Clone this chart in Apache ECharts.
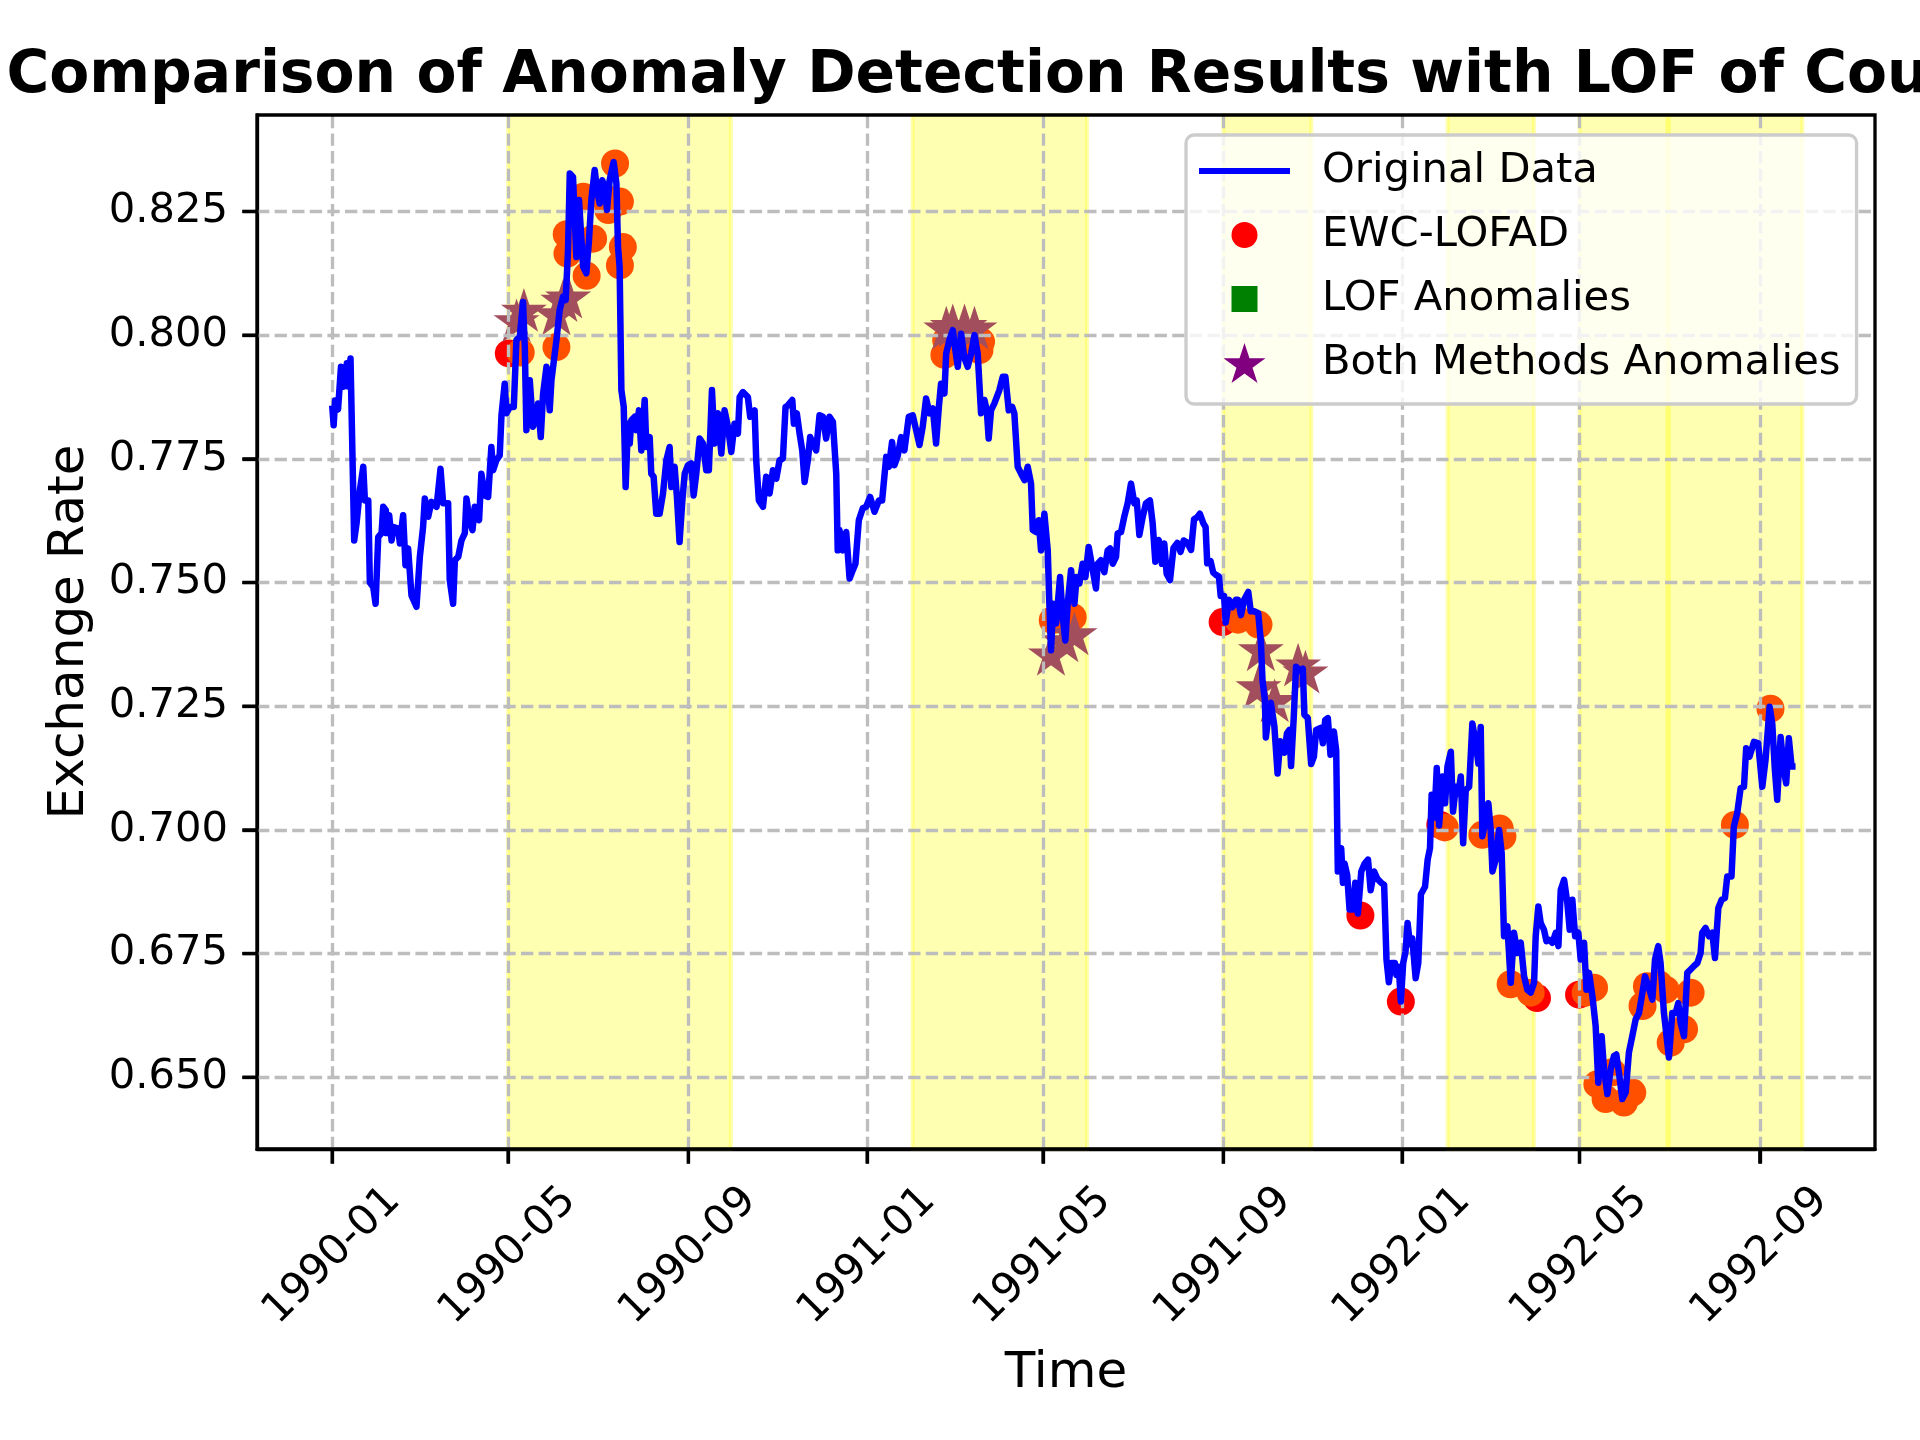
<!DOCTYPE html>
<html>
<head>
<meta charset="utf-8">
<title>Anomaly detection comparison</title>
<script src="https://cdn.jsdelivr.net/npm/echarts@6/dist/echarts.min.js"></script>
<style>
  html, body { margin: 0; padding: 0; background: #fff; }
  #chart { width: 1920px; height: 1440px; }
</style>
</head>
<body>
<div id="chart"></div>
<script>
// == Data ====================================================================
// x values are day offsets from 1990-01-01

const rates1990 = [
  [0,0.7858],[1,0.7818],[2,0.7868],[4,0.7850],[6,0.7936],[8,0.7896],[10,0.7943],[11,0.7896],
  [12.5,0.7953],[15,0.7585],[16.6,0.7619],[18.9,0.7687],[21.2,0.7734],[22.3,0.7666],[24.6,0.7666],
  [25.7,0.7500],[28,0.7491],[29.6,0.7457],[31.4,0.7592],[33.7,0.7600],[34.8,0.7653],[36.6,0.7646],
  [37,0.7600],[38.9,0.7636],[40.5,0.7585],[42,0.7612],[45,0.7609],[46.2,0.7579],[48.4,0.7636],
  [50,0.7535],[51.8,0.7569],[54.1,0.7474],[57.5,0.7451],[59.8,0.7552],[62,0.7612],[63.2,0.7670],
  [65.5,0.7633],[67.7,0.7663],[71.2,0.7653],[73.9,0.7730],[75.7,0.7660],[79.1,0.7660],[80.2,0.7505],
  [82.5,0.7457],[83.7,0.7545],[86,0.7552],[88.2,0.7585],[90.5,0.7600],[91.6,0.7670],[93.9,0.7623],
  [95.7,0.7606],[97.3,0.7653],[100.2,0.7626],[101.8,0.7720],[104.1,0.7676],[106.4,0.7673],
  [108.6,0.7774],[109.8,0.7727],[112,0.7747],[114.3,0.7757],[115.5,0.7838],[117.7,0.7902],
  [118.9,0.7842],[121.2,0.7855],[123.9,0.7855],[125.7,0.7990],[128,0.7997],[130.2,0.8067],
  [131.4,0.7976],[132.5,0.7808],[134.8,0.7909],[137,0.7815],[139.3,0.7835],[140.5,0.7862],
  [142.3,0.7794],[143.9,0.7882],[146.2,0.7936],[148.4,0.7848],[149.6,0.7909],[153,0.7990],
  [155.2,0.8051],[157.5,0.8078],[159.3,0.8071],[160.9,0.8172],[162.1,0.8327],[164.3,0.8320],
  [166.6,0.8158],[168.4,0.8273],[171.2,0.8138],[173.4,0.8125],[175.2,0.8192],[176.8,0.8273],
  [179.1,0.8334],[180.7,0.8293],[182.5,0.8266],[184.3,0.8313],[185.9,0.8300],[187.5,0.8253],
  [189.3,0.8313],[192,0.8350],[193.9,0.8307],[195,0.8179],[196.1,0.8138],[197.3,0.7889],
  [198.9,0.7855],[200.2,0.7693],[201.8,0.7821],[203,0.7781],[204.1,0.7828],[206.4,0.7835],
  [207.5,0.7808],[209.3,0.7848],[210.9,0.7767],[213.2,0.7869],[214.3,0.7774],[216.6,0.7794],
  [217.7,0.7720],[219.3,0.7714],[221.1,0.7639],[223.4,0.7639],[225.7,0.7680],[228,0.7747],
  [230.2,0.7774],[231.4,0.7693],[233.6,0.7734],[235.2,0.7673],[237,0.7582],[238.9,0.7666],
  [240.5,0.7720],[242.7,0.7737],[245,0.7741],[246.6,0.7676],[248.4,0.7720],[250.7,0.7791],
  [253,0.7781],[255.2,0.7727],[257,0.7727],[259.1,0.7889],[260.9,0.7781],[263.2,0.7842],
  [265.5,0.7761],[267.7,0.7848],[270,0.7815],[272.3,0.7764],[274.5,0.7821],[276.8,0.7801],
  [278,0.7875],[280.2,0.7885],[283.6,0.7875],[285.2,0.7835],[288.2,0.7848],[289.3,0.7747],
  [291.1,0.7666],[293.9,0.7653],[296.1,0.7714],[298.4,0.7680],[300.7,0.7727],[303,0.7710],
  [305.2,0.7747],[307.5,0.7751],[309.3,0.7855],[310.9,0.7858],[313.9,0.7869],[315,0.7821],
  [317,0.7842],[318.9,0.7801],[320.7,0.7767],[322.3,0.7703],[324.5,0.7747],[326.1,0.7794],
  [328,0.7781],[330.2,0.7767],[332.5,0.7838],[334.8,0.7835],[337,0.7791],[339.3,0.7835],
  [341.6,0.7825],[343.9,0.7720],[344.9,0.7565],[346.1,0.7606],[348.4,0.7565],[350.7,0.7602],
  [353,0.7508],[355.2,0.7525],[357,0.7538],[359.3,0.7626],[362,0.7650],[364.3,0.7653]
]

const rates1991 = [
  [367,0.7673],[370,0.7643],[373,0.7666],[375.2,0.7666],[378,0.7754],[379.8,0.7734],[382,0.7784],
  [383.6,0.7737],[385.9,0.7757],[388.2,0.7794],[390.4,0.7767],[393.4,0.7835],[396.1,0.7838],
  [398.4,0.7808],[400.7,0.7778],[402.9,0.7815],[405.2,0.7872],[407.5,0.7842],[409.8,0.7852],
  [412,0.7781],[413.9,0.7855],[415.4,0.7902],[417.7,0.7882],[418.9,0.7963],[421.1,0.7990],
  [423.4,0.8010],[425.2,0.7970],[426.8,0.7936],[429.1,0.8003],[431.4,0.7953],[433.6,0.7936],
  [435.9,0.7963],[438.2,0.8000],[440.4,0.7963],[442.7,0.7842],[445,0.7869],[446.6,0.7848],
  [447.9,0.7791],[449.5,0.7848],[451.8,0.7862],[455.2,0.7889],[457.5,0.7916],[459.3,0.7916],
  [461.6,0.7848],[463.9,0.7855],[465.4,0.7842],[467.7,0.7734],[470,0.7720],[472.3,0.7707],
  [474.5,0.7734],[476.8,0.7700],[478,0.7606],[480.2,0.7602],[482,0.7626],[483.6,0.7565],
  [485.9,0.7639],[488.2,0.7565],[489.3,0.7457],[490.4,0.7363],[492,0.7457],[493.9,0.7417],
  [496.6,0.7511],[498.4,0.7430],[500.2,0.7383],[501.8,0.7457],[504.1,0.7525],[506.4,0.7457],
  [507.9,0.7511],[509.8,0.7498],[512,0.7538],[513.9,0.7511],[516.1,0.7572],[518.9,0.7525],
  [521.1,0.7488],[522.3,0.7538],[524.5,0.7545],[526.8,0.7521],[529.1,0.7565],[530.7,0.7569],
  [532.5,0.7538],[534.8,0.7552],[535.9,0.7599],[538.2,0.7602],[540.4,0.7633],[542.7,0.7660],
  [545,0.7700],[547.3,0.7660],[548.9,0.7666],[550.7,0.7596],[553,0.7633],[555.2,0.7660],
  [557.9,0.7666],[559.8,0.7619],[561.6,0.7542],[563.9,0.7586],[566.1,0.7538],[567.7,0.7579],
  [569.3,0.7518],[571.6,0.7505],[574,0.7570],[576.6,0.7580],[578.8,0.7562],[581,0.7585],
  [583.3,0.7581],[586,0.7566],[588,0.7628],[590.2,0.7632],[592,0.7639],[594.3,0.7620],
  [595.9,0.7612],[597,0.7539],[599.3,0.7543],[601.1,0.7520],[602.7,0.7516],[605,0.7512],
  [606.2,0.7473],[608.5,0.7473],[609.6,0.7419],[611.9,0.7465],[614.2,0.7450],[616.5,0.7465],
  [618,0.7465],[620,0.7434],[622.2,0.7465],[625,0.7481],[626.7,0.7442],[629,0.7442],
  [631.8,0.7438],[633.6,0.7380],[634.7,0.7303],[636.3,0.7264],[637,0.7187],[638.6,0.7226],
  [640.4,0.7257],[642.8,0.7210],[645,0.7114],[646.8,0.7179],[649.6,0.7156],[651.4,0.7195],
  [653,0.7202],[654.2,0.7129],[656,0.7226],[657.6,0.7330],[659.9,0.7322],[662.2,0.7326],
  [663.3,0.7233],[665.6,0.7226],[667.9,0.7133],[669.8,0.7148],[671.3,0.7202],[674.3,0.7206],
  [675.9,0.7175],[677.5,0.7222],[679.3,0.7226],[681.1,0.7152],[683.4,0.7199],[685,0.7160],
  [686.1,0.6916],[688.4,0.6963],[689.6,0.6893],[690.7,0.6932],[692.5,0.6909],[694.1,0.6839],
  [696.4,0.6839],[698,0.6893],[699.8,0.6831],[702.1,0.6916],[704.4,0.6932],[706.7,0.6940],
  [708.5,0.6878],[710.8,0.6916],[713.1,0.6901],[715.8,0.6893],[717.7,0.6889],[719.3,0.6738],
  [720.9,0.6692],[722.7,0.6731],[725,0.6731],[726.1,0.6707],[727.7,0.6723],[729.1,0.6653]
]

const rates1992 = [
  [730.7,0.6731],[732.3,0.6754],[733.7,0.6812],[735.3,0.6769],[736.9,0.6781],[739.2,0.6700],
  [741,0.6731],[742.8,0.6870],[745.6,0.6885],[747.4,0.6940],[749,0.6963],[750.1,0.7071],
  [752,0.7025],[753.6,0.7125],[755.2,0.7009],[757.5,0.7108],[759.3,0.7054],[760.9,0.7128],
  [763.2,0.7158],[764.7,0.7037],[766.6,0.7087],[768.4,0.7074],[770,0.7108],[771.6,0.6973],
  [773.4,0.7081],[775.7,0.7087],[777.9,0.7215],[780.2,0.7175],[782,0.7134],[783.6,0.7208],
  [784.7,0.6987],[787,0.7020],[788.8,0.7054],[790.4,0.7000],[791.6,0.6916],[793.8,0.6940],
  [796.1,0.7000],[797.9,0.6953],[799.5,0.6785],[801.8,0.6805],[804.1,0.6691],[806.3,0.6792],
  [808.6,0.6751],[810.9,0.6772],[813.2,0.6704],[815.4,0.6677],[817.7,0.6671],[820,0.6691],
  [821.1,0.6785],[822.9,0.6845],[824.5,0.6812],[826.8,0.6798],[828.4,0.6775],[830.2,0.6778],
  [832.5,0.6772],[834.8,0.6792],[836.6,0.6765],[838.2,0.6879],[840.5,0.6899],[842.7,0.6852],
  [844.3,0.6798],[846.1,0.6859],[848,0.6785],[850.2,0.6792],[851.8,0.6738],[854.1,0.6772],
  [855.7,0.6677],[857.5,0.6711],[859.8,0.6664],[862,0.6604],[863.8,0.6489],[866.1,0.6583],
  [867.7,0.6516],[870,0.6466],[872.3,0.6516],[874.5,0.6543],[876.1,0.6546],[877.9,0.6509],
  [880.2,0.6456],[882.5,0.6469],[884.7,0.6550],[887,0.6583],[889.3,0.6617],[891.6,0.6630],
  [893.9,0.6671],[895.7,0.6704],[898,0.6684],[900.7,0.6657],[902.5,0.6738],[904.7,0.6765],
  [906.3,0.6731],[908.6,0.6630],[912,0.6540],[914.3,0.6630],[916.6,0.6630],[918.4,0.6650],
  [920,0.6610],[922.3,0.6583],[924.5,0.6711],[926.8,0.6718],[929.1,0.6725],[931.4,0.6731],
  [933.6,0.6751],[934.7,0.6792],[937,0.6802],[939.3,0.6785],[941.6,0.6792],[943.4,0.6741],
  [945.7,0.6842],[948,0.6859],[950.2,0.6862],[951.8,0.6906],[954.7,0.6906],[956.3,0.7007],
  [958.6,0.7034],[960.9,0.7084],[963.2,0.7087],[964.7,0.7165],[967,0.7148],[970,0.7178],
  [972.9,0.7175],[975.7,0.7087],[977.9,0.7141],[980.7,0.7249],[982.5,0.7215],[984.3,0.7121],
  [985.9,0.7061],[988.2,0.7188],[990.4,0.7121],[992,0.7094],[993.8,0.7185],[995.7,0.7128],
  [998.4,0.7128]
]

// EWC-LOFAD points that show red
const ewcPoints = [
  [120.5,0.7963],[607.5,0.7420],[701.5,0.6827],[729.1,0.6653],[756,0.7010],[822,0.6660],[850.7,0.6667]
]

// orange-red circles drawn over the red ones (no legend entry)
const extraPoints = [
  [128.6,0.7965],[153,0.7976],[160,0.8204],[160.5,0.8165],[166,0.8190],[171.3,0.8280],
  [173.6,0.8120],[178,0.8195],[185,0.8280],[188.4,0.8253],[193,0.8347],[196.3,0.8270],
  [196.3,0.8141],[198.3,0.8178],
  [417.7,0.7960],[418.9,0.7990],[441.6,0.7970],[442.7,0.7987],
  [491.6,0.7424],[505.2,0.7430],
  [618,0.7425],[632,0.7415],
  [759,0.7005],[784.7,0.6990],[796.5,0.7003],[798.4,0.6987],
  [804,0.6688],[817.7,0.6671],[855.2,0.6671],[860.9,0.6681],
  [863.2,0.6486],[868.8,0.6456],[873.4,0.6510],[881.3,0.6449],[887,0.6469],
  [894,0.6644],[897,0.6684],[905,0.6688],[909.7,0.6677],[913.2,0.6570],[922.3,0.6597],[926.8,0.6671],
  [957,0.7010],[981.3,0.7245]
]

const lofPoints = []

const bothPoints = [
  [125.8,0.8030],[130.8,0.8051],[153,0.8044],[157.7,0.8071],[161,0.8078],
  [419,0.8015],[423.4,0.8020],[431.4,0.8020],[438.2,0.8015],
  [490.4,0.7356],[499.5,0.7383],[506.4,0.7397],
  [632,0.7290],[633.6,0.7365],[643,0.7262],[659,0.7334],[664,0.7320]
]

const bandRanges = [
  ['1990-05-01','1990-09-30'],
  ['1991-02-01','1991-05-31'],
  ['1991-09-01','1991-10-31'],
  ['1992-02-01','1992-03-31'],
  ['1992-05-01','1992-06-30'],
  ['1992-07-01','1992-09-30']
]

const xTickLabels = ['1990-01','1990-05','1990-09','1991-01','1991-05','1991-09','1992-01','1992-05','1992-09']
const yTicks = [0.650, 0.675, 0.700, 0.725, 0.750, 0.775, 0.800, 0.825]

const titleText = 'Comparison of Anomaly Detection Results with LOF of Country 1'

// == Helpers =================================================================

const DAY = 86400000
const T0 = Date.UTC(1990, 0, 1)
// date string -> day offset from 1990-01-01
const toDay = s => {
  const p = s.split('-').map(Number)
  return Math.round((Date.UTC(p[0], p[1] - 1, p[2] || 1) - T0) / DAY)
}

const xTickDays = xTickLabels.map(toDay)
const labelForDay = d => {
  const i = xTickDays.findIndex(t => Math.abs(t - d) < 0.5)
  return i >= 0 ? xTickLabels[i] : ''
}

const STAR = 'path://M50,0L61.23,34.55L97.55,34.55L68.17,55.9L79.39,90.45L50,69.1L20.61,90.45L31.83,55.9L2.45,34.55L38.77,34.55Z'
// legend icons sit in a 91 x 40 box; the corner moves keep the box size
const LINE_ICON = 'path://M0,0M0,16.9H91V23.1H0ZM91,40'
const CIRCLE_ICON = 'path://M0,0M32.5,20A13,13,0,1,1,58.5,20A13,13,0,1,1,32.5,20ZM91,40'
const SQUARE_ICON = 'path://M0,0M32.5,7H58.5V33H32.5ZM91,40'
const FONT = 'DejaVu Sans'
const GRID = { left: 257, right: 45, top: 115, bottom: 291 }
const TICK_LEN = 14.6
const tickStyle = { color: '#000', width: 3.3 }
const spine = { show: true, onZero: false, lineStyle: { color: '#000', width: 3.3 } }

const textGraphics = [
  {
    type: 'text', x: 1066, y: 76.6,
    style: { text: titleText, fontSize: 58.3, fontWeight: 'bold', fontFamily: FONT, fill: '#000', align: 'center', verticalAlign: 'middle' }
  },
  {
    type: 'text', x: 1066, y: 1374,
    style: { text: 'Time', fontSize: 50, fontFamily: FONT, fill: '#000', align: 'center', verticalAlign: 'middle' }
  },
  {
    type: 'text', x: 70.3, y: 632, rotation: Math.PI / 2,
    style: { text: 'Exchange Rate', fontSize: 50, fontFamily: FONT, fill: '#000', align: 'center', verticalAlign: 'middle' }
  }
]

const option = {
  backgroundColor: '#fff',
  animation: false,
  textStyle: { fontFamily: FONT },
  grid: Object.assign({
    show: true, borderColor: '#000', borderWidth: 3.3,
    backgroundColor: 'transparent', z: 10
  }, GRID),
  xAxis: {
    type: 'value',
    min: -51.3,
    max: 1052.6,
    axisLine: spine,
    splitLine: { show: false },
    axisTick: { show: true, customValues: xTickDays, length: TICK_LEN, lineStyle: tickStyle },
    axisLabel: {
      customValues: xTickDays,
      formatter: v => labelForDay(v),
      rotate: 45, align: 'center', verticalAlign: 'middle', margin: 107,
      fontSize: 41.7, color: '#000', fontFamily: FONT
    }
  },
  yAxis: {
    type: 'value',
    min: 0.6355,
    max: 0.8445,
    axisLine: spine,
    splitLine: { show: false },
    axisTick: { show: true, customValues: yTicks, length: TICK_LEN, lineStyle: tickStyle },
    axisLabel: {
      customValues: yTicks,
      formatter: v => v.toFixed(3),
      margin: 29, fontSize: 41.7, color: '#000', fontFamily: FONT
    }
  },
  legend: {
    orient: 'vertical',
    left: 1186, top: 135,
    data: [
      { name: 'Original Data', icon: LINE_ICON },
      { name: 'EWC-LOFAD', icon: CIRCLE_ICON },
      { name: 'LOF Anomalies', icon: SQUARE_ICON },
      { name: 'Both Methods Anomalies', icon: STAR, itemStyle: { color: '#800080' } }
    ],
    itemWidth: 91, itemHeight: 40, itemGap: 20,
    padding: [14, 16, 19, 13],
    backgroundColor: 'rgba(255,255,255,0.8)',
    borderColor: '#cccccc', borderWidth: 3.3, borderRadius: 8,
    textStyle: { fontSize: 41.7, color: '#000', fontFamily: FONT, lineHeight: 44, padding: [0, 0, 0, 27] },
    selectedMode: false,
    z: 20
  },
  graphic: textGraphics,
  series: [
    {
      name: 'bands', type: 'line', data: [], z: 1, silent: true,
      markArea: {
        silent: true,
        itemStyle: { color: 'rgba(255,255,0,0.3)', borderColor: 'rgba(255,255,0,0.3)', borderWidth: 4 },
        data: bandRanges.map(r => [{ xAxis: toDay(r[0]) }, { xAxis: toDay(r[1]) }])
      }
    },
    {
      name: 'gridlines', type: 'line', data: [], z: 2, silent: true,
      markLine: {
        silent: true,
        precision: 6,
        symbol: ['none', 'none'],
        label: { show: false },
        lineStyle: { type: [12.3, 5.3], color: '#bdbdbd', width: 3.3 },
        data: xTickDays.map(t => ({ xAxis: t })).concat(yTicks.map(v => ({ yAxis: v })))
      }
    },
    {
      name: 'EWC-LOFAD', type: 'scatter', z: 3,
      symbol: 'circle', symbolSize: 28,
      itemStyle: { color: '#ff0000', opacity: 1 },
      data: ewcPoints
    },
    {
      name: 'extra', type: 'scatter', z: 3,
      symbol: 'circle', symbolSize: 28,
      itemStyle: { color: '#ff5000', opacity: 1 },
      data: extraPoints
    },
    {
      name: 'LOF Anomalies', type: 'scatter', z: 3,
      symbol: 'rect', symbolSize: 26,
      itemStyle: { color: '#008000', opacity: 1 },
      data: lofPoints
    },
    {
      name: 'Both Methods Anomalies', type: 'scatter', z: 4,
      symbol: STAR, symbolSize: 46, symbolKeepAspect: true,
      itemStyle: { color: '#a34e5c', opacity: 1 },
      data: bothPoints
    },
    {
      name: 'Original Data', type: 'line', z: 5,
      symbol: 'none', showSymbol: false,
      lineStyle: { color: '#0000ff', width: 6.5, join: 'round' },
      itemStyle: { color: '#0000ff' },
      data: rates1990.concat(rates1991, rates1992)
    }
  ]
}

const myChart = echarts.init(document.getElementById('chart'))
myChart.setOption(option)

// outward tick marks, placed through the axes' own scales
const axisLeft = GRID.left
const axisBottom = 1440 - GRID.bottom
const tickLine = (x1, y1, x2, y2) => ({
  type: 'line', z: 30, silent: true,
  shape: { x1, y1, x2, y2 },
  style: { stroke: '#000', lineWidth: 3.3 }
})
const yTickMarks = yTicks.map(v => {
  const py = myChart.convertToPixel({ yAxisIndex: 0 }, v)
  return tickLine(axisLeft - TICK_LEN, py, axisLeft, py)
})
const xTickMarks = xTickDays.map(d => {
  const px = myChart.convertToPixel({ xAxisIndex: 0 }, d)
  return tickLine(px, axisBottom, px, axisBottom + TICK_LEN)
})
myChart.setOption({ graphic: textGraphics.concat(yTickMarks, xTickMarks) })
</script>
</body>
</html>
